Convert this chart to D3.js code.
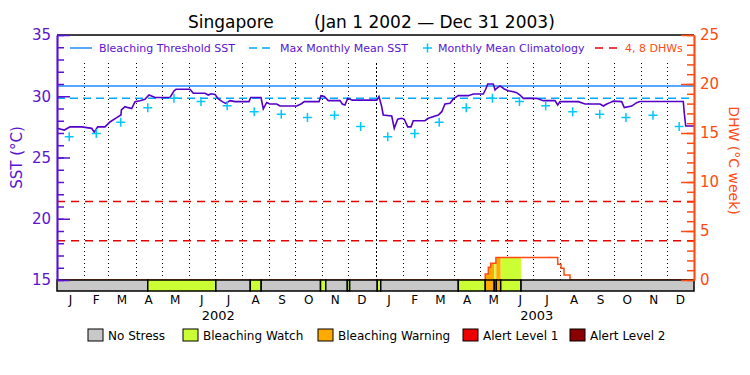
<!DOCTYPE html>
<html>
<head>
<meta charset="utf-8">
<script src="https://cdn.jsdelivr.net/npm/d3@7"></script>
<style>
  body { margin: 0; background: #fff; }
  svg text { font-family: "DejaVu Sans", sans-serif; }
</style>
</head>
<body>
<svg id="chart" width="750" height="375"></svg>
<script>
// all "day" values are days counted from 1 Jan 2002
const sstDay = [0, 8.4, 14.9, 28.3, 39.8, 42.7, 46.6, 55, 60.7, 68.4, 73.3, 73.8, 77.9, 81.7, 85.6, 89.4,
  95.1, 100.8, 105.4, 108.4, 112.3, 129.5, 134, 136.4, 152.4, 156.2, 169.6, 173.4, 176.5, 181.1, 184.9,
  189.4, 193.3, 198.3, 204, 220, 222, 233.8, 236.4, 240.3, 244.1, 251.8, 255.6, 274.7, 279.6, 283.4,
  300.3, 302.5, 306.3, 310.9, 324.3, 327, 330, 333.1, 338.4, 366.4, 369, 372.1, 373.9, 383.6, 386.5,
  390.4, 395, 398, 401.9, 405.7, 408.3, 421.7, 425.5, 437, 440.9, 444.6, 450.4, 454.2, 459.9, 471.4,
  477.1, 488.5, 491.3, 493.6, 500, 502, 503.9, 507.7, 512.6, 517.2, 522.9, 526.8, 530.6, 534.4, 549.7,
  557.3, 570.7, 573.8, 576.4, 597.4, 605.1, 622.3, 626.1, 630, 633.7, 637.5, 647.1, 650.1, 658.6,
  664.3, 668.1, 717.7, 718.9, 720.5, 730];
const sstValue = [27.38, 27.24, 27.5, 27.5, 27.38, 27.06, 27.5, 27.5, 27.9, 28.25, 28.47, 28.88, 29.15, 29.07, 29.0, 29.56,
  29.64, 29.75, 30.1, 30.02, 29.9, 29.9, 30.43, 30.57, 30.57, 30.24, 30.24, 30.1, 30.2, 30.15, 29.78,
  29.56, 29.42, 29.64, 29.56, 29.56, 29.9, 29.9, 28.96, 29.49, 29.37, 29.37, 29.2, 29.2, 29.37, 29.56,
  29.56, 30.05, 29.98, 29.64, 29.64, 29.37, 29.29, 29.83, 29.68, 29.68, 29.98, 29.15, 28.47, 28.39, 27.38,
  28.12, 28.2, 28.12, 27.5, 27.5, 28.0, 28.0, 28.2, 28.47, 28.74, 29.37, 29.42, 29.78, 30.05, 30.05,
  30.18, 30.18, 30.57, 31.0, 31.0, 30.51, 30.65, 30.84, 30.59, 30.45, 30.37, 30.29, 30.1, 29.83, 29.83,
  29.64, 29.64, 29.29, 29.56, 29.56, 29.37, 29.37, 29.2, 29.37, 29.48, 29.6, 29.56, 29.08, 29.2,
  29.48, 29.57, 29.57, 28.6, 27.57, 27.57];

// monthly mean climatology, Jan..Dec
const climMonthly = [26.7, 26.95, 27.87, 29.07, 29.83, 29.58, 29.22, 28.74, 28.53, 28.27, 28.44, 27.54];

const dhwDay = [0, 490.8, 494.3, 497, 503, 573.8, 577.6, 581, 587.9, 730];
const dhwValue = [0, 0.6, 1.3, 1.7, 2.3, 1.6, 1.2, 0.5, 0, 0];

const statusStart = [0, 104, 182, 221.5, 234, 302, 308, 332.7, 335.4, 367, 371, 459.9, 490.8, 501.1, 503.4, 508.5, 531.8];
const statusLevel = [0, 1, 0, 1, 0, 1, 0, 1, 0, 1, 0, 1, 2, 1, 2, 1, 0];
const statusNames = ["No Stress", "Bleaching Watch", "Bleaching Warning", "Alert Level 1", "Alert Level 2"];
const statusColors = ["#c8c8c8", "#ccff33", "#ffaa00", "#ee0000", "#8b0000"];

const monthLetters = ["J", "F", "M", "A", "M", "J", "J", "A", "S", "O", "N", "D"];
const years = [2002, 2003];
const sstTicks = [15, 20, 25, 30, 35];
const dhwTicks = [0, 5, 10, 15, 20, 25];
const dhwLevels = [4, 8];

const purple = "#5a14d0", orange = "#ff4a10";
const t0 = Date.UTC(2002, 0, 1);
const dayToDate = d => new Date(t0 + d * 864e5);
const totalDays = 730;

const mmm = d3.max(climMonthly);
const threshold = mmm + 1;

const svg = d3.select("#chart");
const pLeft = 57, pRight = 694, pTop = 35, pBottom = 280, barH = 11;

const x = d3.scaleUtc().domain([dayToDate(0), dayToDate(totalDays)]).range([pLeft, pRight]);
const ySst = d3.scaleLinear().domain([15, 35]).range([pBottom, pTop]);
const yDhw = d3.scaleLinear().domain([0, 25]).range([pBottom, pTop]);

// title
svg.append("text").attr("x", 188).attr("y", 28).attr("font-size", 17).text("Singapore");
svg.append("text").attr("x", 314).attr("y", 28).attr("font-size", 17).text("(Jan 1 2002 — Dec 31 2003)");

// month grid, snapped to whole pixels so the dots stay black
const months = d3.utcMonth.range(dayToDate(0), dayToDate(totalDays));
svg.append("g").attr("shape-rendering", "crispEdges").selectAll("line")
  .data(months.slice(1))
  .enter().append("line")
  .attr("x1", d => Math.round(x(d)) + 0.5).attr("x2", d => Math.round(x(d)) + 0.5)
  .attr("y1", Math.round(ySst(32.7))).attr("y2", pBottom)
  .attr("stroke", "#000")
  .attr("stroke-width", 1)
  .attr("stroke-dasharray", d => d.getUTCMonth() === 0 ? "2,2" : "1,3");

// DHW 4 and 8 levels
svg.append("g").selectAll("line")
  .data(dhwLevels)
  .enter().append("line")
  .attr("x1", pLeft).attr("x2", pRight)
  .attr("y1", d => yDhw(d)).attr("y2", d => yDhw(d))
  .attr("stroke", "#e60000").attr("stroke-width", 1.5)
  .attr("stroke-dasharray", "8,6");

// MMM and bleaching threshold
svg.append("line")
  .attr("x1", pLeft).attr("x2", pRight)
  .attr("y1", ySst(mmm)).attr("y2", ySst(mmm))
  .attr("stroke", "#00a8ff").attr("stroke-width", 1.5)
  .attr("stroke-dasharray", "8,5");
svg.append("line")
  .attr("x1", pLeft).attr("x2", pRight)
  .attr("y1", ySst(threshold)).attr("y2", ySst(threshold))
  .attr("stroke", "#1e8cff").attr("stroke-width", 1.5);

// stress segments
const segments = statusStart.map((s, i) => ({
  start: s,
  end: i < statusStart.length - 1 ? statusStart[i + 1] : totalDays,
  level: statusLevel[i]
}));

// fill under DHW curve by stress colour
const dhwPts = dhwDay.map((d, i) => ({ day: d, v: dhwValue[i] }));
const dhwArea = d3.area()
  .curve(d3.curveStepAfter)
  .x(d => x(dayToDate(d.day)))
  .y0(pBottom)
  .y1(d => yDhw(d.v));
svg.append("clipPath").attr("id", "dhwClip")
  .append("path").attr("d", dhwArea(dhwPts));
svg.append("g").attr("clip-path", "url(#dhwClip)")
  .selectAll("rect")
  .data(segments.filter(s => s.level > 0))
  .enter().append("rect")
  .attr("x", d => x(dayToDate(d.start)))
  .attr("width", d => x(dayToDate(d.end)) - x(dayToDate(d.start)))
  .attr("y", pTop).attr("height", pBottom - pTop)
  .attr("fill", d => statusColors[d.level]);

const dhwLine = d3.line()
  .curve(d3.curveStepAfter)
  .x(d => x(dayToDate(d.day)))
  .y(d => yDhw(d.v));
svg.append("path")
  .attr("d", dhwLine(dhwPts))
  .attr("fill", "none").attr("stroke", orange).attr("stroke-width", 1.5);

// SST line
const sstPts = sstDay.map((d, i) => ({ day: d, v: sstValue[i] }));
const sstLine = d3.line()
  .x(d => x(dayToDate(d.day)))
  .y(d => ySst(d.v));
svg.append("path")
  .attr("d", sstLine(sstPts))
  .attr("fill", "none").attr("stroke", "#5500c8").attr("stroke-width", 1.6);

// climatology crosses
const climPts = [];
years.forEach(yr => climMonthly.forEach((v, m) => climPts.push({ date: new Date(Date.UTC(yr, m, 15)), v: v })));
svg.append("g").selectAll("path")
  .data(climPts)
  .enter().append("path")
  .attr("transform", d => "translate(" + x(d.date) + "," + ySst(d.v) + ")")
  .attr("d", "M-4.5,0H4.5M0,-4.5V4.5")
  .attr("stroke", "#00c8ff").attr("stroke-width", 1.5);

// status bar
svg.append("g").selectAll("rect")
  .data(segments)
  .enter().append("rect")
  .attr("x", d => x(dayToDate(d.start)))
  .attr("width", d => x(dayToDate(d.end)) - x(dayToDate(d.start)))
  .attr("y", pBottom).attr("height", barH)
  .attr("fill", d => statusColors[d.level])
  .attr("stroke", "#000").attr("stroke-width", 1.5);

// top frame
svg.append("line").attr("x1", pLeft).attr("x2", pRight).attr("y1", pTop).attr("y2", pTop)
  .attr("stroke", "#000").attr("stroke-width", 1.5);

// axes
function styleAxis(g, color) {
  g.attr("font-family", "DejaVu Sans, sans-serif").attr("font-size", 15);
  g.selectAll("path,line").attr("stroke", color).attr("stroke-width", 1.5);
  g.selectAll("text").attr("fill", color);
}
svg.append("g").attr("transform", "translate(" + pLeft + ",0)")
  .call(d3.axisRight(ySst).tickValues(d3.range(15, 36)).tickSize(7).tickSizeOuter(0).tickFormat(""))
  .call(styleAxis, purple);
svg.append("g").attr("transform", "translate(" + pLeft + ",0)")
  .call(d3.axisRight(ySst).tickValues(sstTicks).tickSize(13).tickSizeOuter(0).tickFormat(""))
  .call(styleAxis, purple);
svg.append("g").attr("transform", "translate(" + pLeft + ",0)")
  .call(d3.axisLeft(ySst).tickValues(sstTicks).tickSize(0).tickSizeOuter(0).tickPadding(6))
  .call(styleAxis, purple);

svg.append("g").attr("transform", "translate(" + pRight + ",0)")
  .call(d3.axisLeft(yDhw).tickValues(d3.range(0, 26)).tickSize(7).tickSizeOuter(0).tickFormat(""))
  .call(styleAxis, orange);
svg.append("g").attr("transform", "translate(" + pRight + ",0)")
  .call(d3.axisLeft(yDhw).tickValues(dhwTicks).tickSize(13).tickSizeOuter(0).tickFormat(""))
  .call(styleAxis, orange);
svg.append("g").attr("transform", "translate(" + pRight + ",0)")
  .call(d3.axisRight(yDhw).tickValues(dhwTicks).tickSize(0).tickSizeOuter(0).tickPadding(6))
  .call(styleAxis, orange);

// axis titles
svg.append("text")
  .attr("transform", "translate(22," + ((pTop + pBottom) / 2) + ") rotate(-90)")
  .attr("text-anchor", "middle").attr("font-size", 15).attr("fill", purple)
  .text("SST (°C)");
svg.append("text")
  .attr("transform", "translate(729," + ((pTop + pBottom) / 2 + 3) + ") rotate(90)")
  .attr("text-anchor", "middle").attr("font-size", 14).attr("fill", orange)
  .text("DHW (°C week)");

// month and year labels
svg.append("g").selectAll("text")
  .data(months)
  .enter().append("text")
  .attr("x", d => (x(d) + x(d3.utcMonth.offset(d, 1))) / 2)
  .attr("y", 303.5)
  .attr("text-anchor", "middle").attr("font-size", 12)
  .text(d => monthLetters[d.getUTCMonth()]);
svg.append("g").selectAll("text")
  .data(years)
  .enter().append("text")
  .attr("x", d => (x(new Date(Date.UTC(d, 0, 1))) + x(new Date(Date.UTC(d + 1, 0, 1)))) / 2 + 2)
  .attr("y", 320)
  .attr("text-anchor", "middle").attr("font-size", 13)
  .text(d => d);

// top legend
const topLegend = svg.append("g").attr("font-size", 11);
const ly = 48;
topLegend.append("line").attr("x1", 70).attr("x2", 92).attr("y1", ly).attr("y2", ly)
  .attr("stroke", "#1e8cff").attr("stroke-width", 1.5);
topLegend.append("text").attr("x", 99).attr("y", ly + 4).attr("fill", purple).text("Bleaching Threshold SST");
topLegend.append("line").attr("x1", 249).attr("x2", 273).attr("y1", ly).attr("y2", ly)
  .attr("stroke", "#00a8ff").attr("stroke-width", 1.5).attr("stroke-dasharray", "8,5");
topLegend.append("text").attr("x", 280).attr("y", ly + 4).attr("fill", purple).text("Max Monthly Mean SST");
topLegend.append("path").attr("d", "M423," + ly + "h9M427.5," + (ly - 4.5) + "v9")
  .attr("stroke", "#00c8ff").attr("stroke-width", 1.5);
topLegend.append("text").attr("x", 438).attr("y", ly + 4).attr("fill", purple).text("Monthly Mean Climatology");
topLegend.append("line").attr("x1", 595).attr("x2", 618).attr("y1", ly).attr("y2", ly)
  .attr("stroke", "#e60000").attr("stroke-width", 1.5).attr("stroke-dasharray", "8,6");
topLegend.append("text").attr("x", 625).attr("y", ly + 4).attr("fill", orange).text("4, 8 DHWs");

// bottom legend
const legendX = [88, 183, 318, 463, 570];
const bottomLegend = svg.append("g").selectAll("g")
  .data(statusNames)
  .enter().append("g")
  .attr("transform", (d, i) => "translate(" + legendX[i] + ",329)");
bottomLegend.append("rect")
  .attr("width", 15).attr("height", 12)
  .attr("fill", (d, i) => statusColors[i])
  .attr("stroke", "#000").attr("stroke-width", 1);
bottomLegend.append("text")
  .attr("x", 20).attr("y", 10.5).attr("font-size", 12)
  .text(d => d);
</script>
</body>
</html>
